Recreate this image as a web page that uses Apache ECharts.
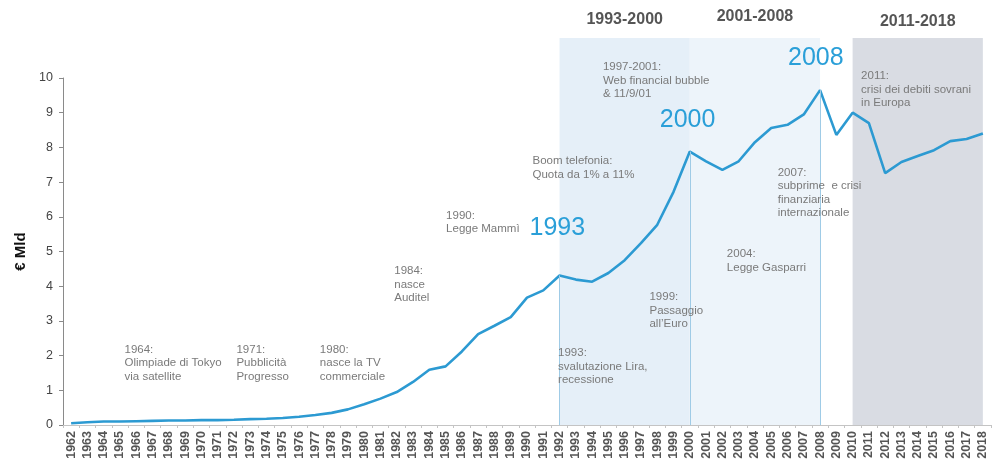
<!DOCTYPE html>
<html>
<head>
<meta charset="utf-8">
<script src="https://cdn.jsdelivr.net/npm/echarts@6/dist/echarts.min.js"></script>
<style>
  html, body { margin: 0; padding: 0; background: #ffffff; }
  #chart { width: 994px; height: 466px; }
</style>
</head>
<body>
<div id="chart"></div>
<script>
// Annual advertising revenue, € billions
const years = [
  '1962','1963','1964','1965','1966','1967','1968','1969','1970','1971',
  '1972','1973','1974','1975','1976','1977','1978','1979','1980','1981',
  '1982','1983','1984','1985','1986','1987','1988','1989','1990','1991',
  '1992','1993','1994','1995','1996','1997','1998','1999','2000','2001',
  '2002','2003','2004','2005','2006','2007','2008','2009','2010','2011',
  '2012','2013','2014','2015','2016','2017','2018'
];
const revenue = [
  0.05, 0.08, 0.10, 0.10, 0.11, 0.12, 0.13, 0.13, 0.14, 0.14,
  0.15, 0.17, 0.18, 0.20, 0.24, 0.29, 0.35, 0.45, 0.60, 0.76,
  0.95, 1.24, 1.59, 1.69, 2.12, 2.62, 2.86, 3.11, 3.67, 3.88,
  4.31, 4.19, 4.13, 4.38, 4.75, 5.24, 5.77, 6.72, 7.88, 7.60,
  7.35, 7.60, 8.15, 8.56, 8.65, 8.95, 9.65, 8.36, 9.00, 8.70,
  7.26, 7.58, 7.75, 7.92, 8.18, 8.24, 8.40
];
const yTicks = [0, 1, 2, 3, 4, 5, 6, 7, 8, 9, 10];

// Shaded periods
const periodLabels = ['1993-2000', '2001-2008', '2011-2018'];
const periodStart = ['1992', '2000', '2010'];
const periodEnd = ['2000', '2008', '2018'];

// Years where a drop line marks a turning point
const dropYears = ['1992', '2000', '2008'];

// Highlighted years written in large type
const bigYears = ['1993', '2000', '2008'];

// Event notes
const notes = [
  '1964:\nOlimpiade di Tokyo\nvia satellite',
  '1971:\nPubblicità\nProgresso',
  '1980:\nnasce la TV\ncommerciale',
  '1984:\nnasce\nAuditel',
  '1990:\nLegge Mammì',
  'Boom telefonia:\nQuota da 1% a 11%',
  '1997-2001:\nWeb financial bubble\n& 11/9/01',
  '1993:\nsvalutazione Lira,\nrecessione',
  '1999:\nPassaggio\nall\u2019Euro',
  '2004:\nLegge Gasparri',
  '2007:\nsubprime  e crisi\nfinanziaria\ninternazionale',
  '2011:\ncrisi dei debiti sovrani\nin Europa'
];

// Layout of the text blocks: anchor category / value on the axes, then a pixel nudge
const noteLayout = [
  { at: '1965', v: 2.36, dx: 5,  dy: 0 },
  { at: '1972', v: 2.36, dx: 3,  dy: 0 },
  { at: '1977', v: 2.36, dx: 5,  dy: 0 },
  { at: '1982', v: 4.61, dx: -2, dy: 0 },
  { at: '1985', v: 6.22, dx: 1,  dy: 0 },
  { at: '1990', v: 7.78, dx: 6,  dy: 0 },
  { at: '1995', v: 10,   dx: -5, dy: -17 },
  { at: '1992', v: 2.25, dx: -1, dy: 0 },
  { at: '1997', v: 3.86, dx: 9,  dy: 0 },
  { at: '2002', v: 5.10, dx: 5,  dy: 0 },
  { at: '2005', v: 7.46, dx: 7,  dy: 0 },
  { at: '2010', v: 10,   dx: 9,  dy: -8 }
];
const bigYearLayout = [
  { at: '1990', v: 6.02, dx: 3, dy: 0 },
  { at: '1998', v: 9.14, dx: 3, dy: 0 },
  { at: '2006', v: 10,   dx: 1, dy: -32 }
];

const BLUE = '#2c9ad2';
const NOTE_GREY = '#7a7a7a';
const bandColors = ['#e5eff8', '#edf4fa', '#d9dce3'];
const headerGap = [10, 13, 8];

const noteItems = notes.map((t, i) => ({
  coord: [noteLayout[i].at, noteLayout[i].v],
  label: {
    show: true,
    formatter: t,
    position: [noteLayout[i].dx, noteLayout[i].dy],
    align: 'left',
    verticalAlign: 'top',
    color: NOTE_GREY,
    fontSize: 11.5,
    lineHeight: 13.5,
    fontFamily: 'Liberation Sans, Arial, sans-serif'
  }
}));
const bigYearItems = bigYears.map((t, i) => ({
  coord: [bigYearLayout[i].at, bigYearLayout[i].v],
  label: {
    show: true,
    formatter: t,
    position: [bigYearLayout[i].dx, bigYearLayout[i].dy],
    align: 'left',
    verticalAlign: 'top',
    color: '#2a9fd8',
    fontSize: 25,
    lineHeight: 25,
    fontFamily: 'Liberation Sans, Arial, sans-serif'
  }
}));

const dropLines = dropYears.map(y => {
  const v = revenue[years.indexOf(y)];
  return [{ coord: [y, v] }, { coord: [y, 0] }];
});

const bandAreas = periodLabels.map((lab, i) => [
  {
    xAxis: periodStart[i],
    yAxis: 1,
    itemStyle: { color: bandColors[i] },
    label: {
      show: true,
      formatter: lab,
      position: 'top',
      distance: headerGap[i],
      color: '#555555',
      fontSize: 16,
      fontWeight: 'bold',
      fontFamily: 'Liberation Sans, Arial, sans-serif'
    }
  },
  { xAxis: periodEnd[i], yAxis: 0 }
]);

const chart = echarts.init(document.getElementById('chart'), null, { renderer: 'canvas' });

chart.setOption({
  animation: false,
  backgroundColor: '#ffffff',
  grid: [
    { left: 63, right: 3, top: 78, bottom: 41 },
    { left: 63, right: 3, top: 38, bottom: 41 }
  ],
  xAxis: [
    {
      type: 'category',
      gridIndex: 0,
      data: years,
      boundaryGap: true,
      axisLine: { lineStyle: { color: '#c4c4c4', width: 1 } },
      axisTick: { show: true, length: 3, lineStyle: { color: '#c4c4c4' } },
      axisLabel: {
        interval: 0,
        rotate: 90,
        margin: 6,
        color: '#555555',
        fontSize: 12.5,
        fontWeight: 'bold',
        fontFamily: 'Liberation Sans, Arial, sans-serif'
      },
      splitLine: { show: false },
      z: 3
    },
    {
      type: 'category',
      gridIndex: 1,
      data: years,
      boundaryGap: true,
      show: false
    }
  ],
  yAxis: [
    {
      type: 'value',
      gridIndex: 0,
      min: yTicks[0],
      max: yTicks[yTicks.length - 1],
      interval: 1,
      name: '€ Mld',
      nameLocation: 'middle',
      nameGap: 30,
      nameTextStyle: {
        color: '#111111',
        fontSize: 15,
        fontWeight: 'bold',
        fontFamily: 'Liberation Sans, Arial, sans-serif'
      },
      axisLine: { show: true, lineStyle: { color: '#8a8a8a', width: 1 } },
      axisTick: { show: true, length: 4, lineStyle: { color: '#8a8a8a' } },
      axisLabel: {
        margin: 10,
        color: '#444444',
        fontSize: 12.5,
        fontFamily: 'Liberation Sans, Arial, sans-serif'
      },
      splitLine: { show: false },
      z: 3
    },
    {
      type: 'value',
      gridIndex: 1,
      min: 0,
      max: 1,
      show: false
    }
  ],
  series: [
    {
      // shaded periods behind the curve
      type: 'line',
      xAxisIndex: 1,
      yAxisIndex: 1,
      data: [],
      silent: true,
      z: 0,
      markArea: {
        silent: true,
        data: bandAreas
      }
    },
    {
      type: 'line',
      xAxisIndex: 0,
      yAxisIndex: 0,
      data: revenue,
      showSymbol: false,
      symbol: 'none',
      smooth: false,
      z: 4,
      lineStyle: { color: BLUE, width: 2.6 },
      markLine: {
        silent: true,
        symbol: 'none',
        label: { show: false },
        lineStyle: { color: '#9fcbe6', width: 1, type: 'solid' },
        data: dropLines
      },
      markPoint: {
        silent: true,
        symbol: 'rect',
        symbolSize: 1,
        itemStyle: { color: 'rgba(0,0,0,0)' },
        data: noteItems.concat(bigYearItems)
      }
    }
  ]
});
</script>
</body>
</html>
